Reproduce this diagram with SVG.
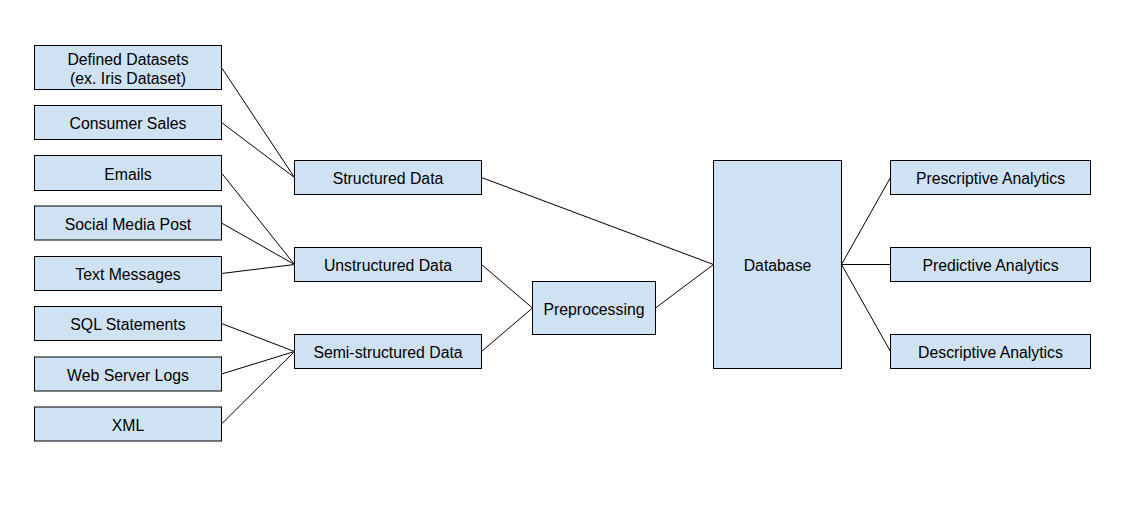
<svg xmlns="http://www.w3.org/2000/svg" width="1138" height="525" viewBox="0 0 1138 525">
<style>
.b{fill:#cfe2f3;stroke:#000;stroke-width:1}
.t{font-family:"Liberation Sans",Arial,sans-serif;font-size:15.8px;fill:#000;text-anchor:middle}
.c line{stroke:#000;stroke-width:1}
</style>
<rect width="1138" height="525" fill="#fff"/>
<g class="c" id="connectors">
<line x1="221.5" y1="67.5" x2="294.5" y2="177.5"/>
<line x1="221.5" y1="122.5" x2="294.5" y2="177.5"/>
<line x1="221.5" y1="173" x2="294.5" y2="264.5"/>
<line x1="221.5" y1="223" x2="294.5" y2="264.5"/>
<line x1="221.5" y1="273.5" x2="294.5" y2="264.5"/>
<line x1="221.5" y1="323.5" x2="294.5" y2="351.5"/>
<line x1="221.5" y1="374" x2="294.5" y2="351.5"/>
<line x1="221.5" y1="424" x2="294.5" y2="351.5"/>
<line x1="481.5" y1="177.5" x2="713.5" y2="264.5"/>
<line x1="481.5" y1="264.5" x2="532.5" y2="308"/>
<line x1="481.5" y1="351.5" x2="532.5" y2="308"/>
<line x1="655.5" y1="308" x2="713.5" y2="264.5"/>
<line x1="841.5" y1="264.5" x2="890.5" y2="177.5"/>
<line x1="841.5" y1="264.5" x2="890.5" y2="264.5"/>
<line x1="841.5" y1="264.5" x2="890.5" y2="351.5"/>
</g>
<g id="defined"><rect class="b" x="34.5" y="45.5" width="187" height="44"/><text class="t" x="128" y="65">Defined Datasets</text><text class="t" x="128" y="83.5">(ex. Iris Dataset)</text></g>
<g id="consumer"><rect class="b" x="34.5" y="105.5" width="187" height="34"/><text class="t" x="128" y="129">Consumer Sales</text></g>
<g id="emails"><rect class="b" x="34.5" y="155.5" width="187" height="35"/><text class="t" x="128" y="179.5">Emails</text></g>
<g id="social"><rect class="b" x="34.5" y="206" width="187" height="34"/><text class="t" x="128" y="229.5">Social Media Post</text></g>
<g id="text"><rect class="b" x="34.5" y="256.5" width="187" height="34"/><text class="t" x="128" y="280">Text Messages</text></g>
<g id="sql"><rect class="b" x="34.5" y="306.5" width="187" height="34"/><text class="t" x="128" y="330">SQL Statements</text></g>
<g id="web"><rect class="b" x="34.5" y="357" width="187" height="34"/><text class="t" x="128" y="380.5">Web Server Logs</text></g>
<g id="xml"><rect class="b" x="34.5" y="407" width="187" height="34"/><text class="t" x="128" y="430.5">XML</text></g>
<g id="structured"><rect class="b" x="294.5" y="160.5" width="187" height="34"/><text class="t" x="388" y="184">Structured Data</text></g>
<g id="unstructured"><rect class="b" x="294.5" y="247.5" width="187" height="34"/><text class="t" x="388" y="271">Unstructured Data</text></g>
<g id="semi"><rect class="b" x="294.5" y="334.5" width="187" height="34"/><text class="t" x="388" y="358">Semi-structured Data</text></g>
<g id="preprocessing"><rect class="b" x="532.5" y="281.5" width="123" height="53"/><text class="t" x="594" y="314.5">Preprocessing</text></g>
<g id="database"><rect class="b" x="713.5" y="160.5" width="128" height="208"/><text class="t" x="777.5" y="271">Database</text></g>
<g id="prescriptive"><rect class="b" x="890.5" y="160.5" width="200" height="34"/><text class="t" x="990.5" y="184">Prescriptive Analytics</text></g>
<g id="predictive"><rect class="b" x="890.5" y="247.5" width="200" height="34"/><text class="t" x="990.5" y="271">Predictive Analytics</text></g>
<g id="descriptive"><rect class="b" x="890.5" y="334.5" width="200" height="34"/><text class="t" x="990.5" y="358">Descriptive Analytics</text></g>
</svg>
